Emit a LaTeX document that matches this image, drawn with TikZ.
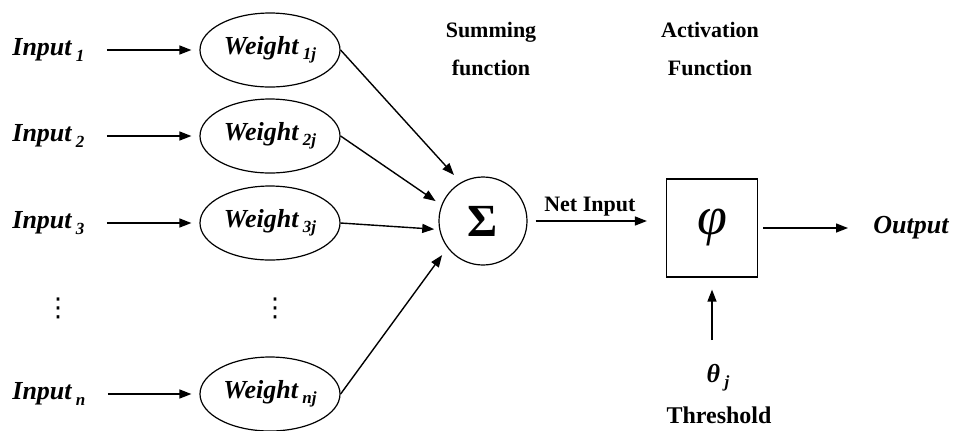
\documentclass[tikz,border=0pt]{standalone}
\usepackage{amsmath,amssymb}
\usepackage{fontspec}
\setmainfont{Liberation Serif}
\newfontfamily\dotsfont{DejaVu Sans}
\usepackage{tikz}
\usetikzlibrary{arrows.meta,positioning,shapes.geometric}
\newcommand{\lowidx}[1]{\,\raisebox{-0.45ex}{\fontsize{8.5}{8.5}\selectfont #1}}
\tikzset{
  inp/.style = {font=\fontsize{13}{15}\selectfont\bfseries\itshape, inner sep=1pt},
  wt/.style  = {ellipse, draw, line width=0.6pt, minimum width=70pt,
                minimum height=37pt, inner sep=0pt,
                font=\fontsize{13}{15}\selectfont\bfseries\itshape},
  sm/.style  = {circle, draw, line width=0.6pt, minimum size=44pt,
                inner sep=0pt, font=\fontsize{23}{23}\selectfont\bfseries},
  act/.style = {rectangle, draw, line width=0.6pt, minimum width=45.5pt,
                minimum height=49pt, inner sep=0pt,
                font=\fontsize{27}{27}\selectfont\itshape},
  hd/.style  = {font=\fontsize{11}{19}\selectfont\bfseries, align=center},
  dts/.style = {font=\fontsize{13}{15}\selectfont\dotsfont, inner sep=0pt},
  ed/.style  = {-{Triangle[length=6pt,width=4.5pt]}, line width=0.7pt},
  lbl/.style = {font=\fontsize{11}{13}\selectfont\bfseries, inner sep=2pt},
}

\begin{document}
\begin{tikzpicture}[x=0.5pt, y=-0.5pt]
  \useasboundingbox (0,0) rectangle (956,430);
  \node[inp, anchor=west] (in1) at (10,50)  {Input\lowidx{1}};
  \node[inp, anchor=west] (in2) at (10,136) {Input\lowidx{2}};
  \node[inp, anchor=west] (in3) at (10,223) {Input\lowidx{3}};
  \node[inp, anchor=west] (inn) at (10,394) {Input\lowidx{n}};
  \node[dts] (dti) at (58,308) {⋮};
  \node[wt] (w1) at (270,50)  {Weight\lowidx{1j}};
  \node[wt] (w2) at (270,136) {Weight\lowidx{2j}};
  \node[wt] (w3) at (270,223) {Weight\lowidx{3j}};
  \node[wt] (wn) at (270,394) {Weight\lowidx{nj}};
  \node[dts] (dtw) at (275,308) {⋮};
  \node[sm] (sum) at (483,221) {Σ};
  \node[act] (phi) at (712,228) {φ};
  \node[inp, anchor=west] (out) at (871,228) {Output};
  \node[hd] (hsum) at (491,49) {Summing\\function};
  \node[hd] (hact) at (710,49) {Activation\\Function};
  \node[inp] (theta) at (718,378) {θ\lowidx{j}};
  \node[font=\fontsize{12}{14}\selectfont\bfseries, inner sep=1pt] (thr) at (719,415) {Threshold};
  \foreach \i in {1,2,3,n}
    \draw[ed, shorten <=10pt, shorten >=4pt] (in\i.east) -- (w\i.west);
  \draw[ed, shorten >=5pt] (w1.east) -- (sum.120);
  \draw[ed, shorten >=3.5pt] (w2.east) -- (sum.159);
  \draw[ed, shorten >=2.5pt] (w3.east) -- (sum.191);
  \draw[ed, shorten >=4.5pt] (wn.east) -- (sum.217);
  \draw[ed, shorten <=4pt, shorten >=9.5pt] (sum.east) --
        node[lbl, above, pos=0.45]{Net Input} (sum.east -| phi.west);
  \draw[ed, shorten <=2.5pt, shorten >=11.5pt] (phi.east) -- (out.west);
  \draw[ed, shorten <=11pt, shorten >=6pt] (theta.north -| phi.south) -- (phi.south);
\end{tikzpicture}
\end{document}
